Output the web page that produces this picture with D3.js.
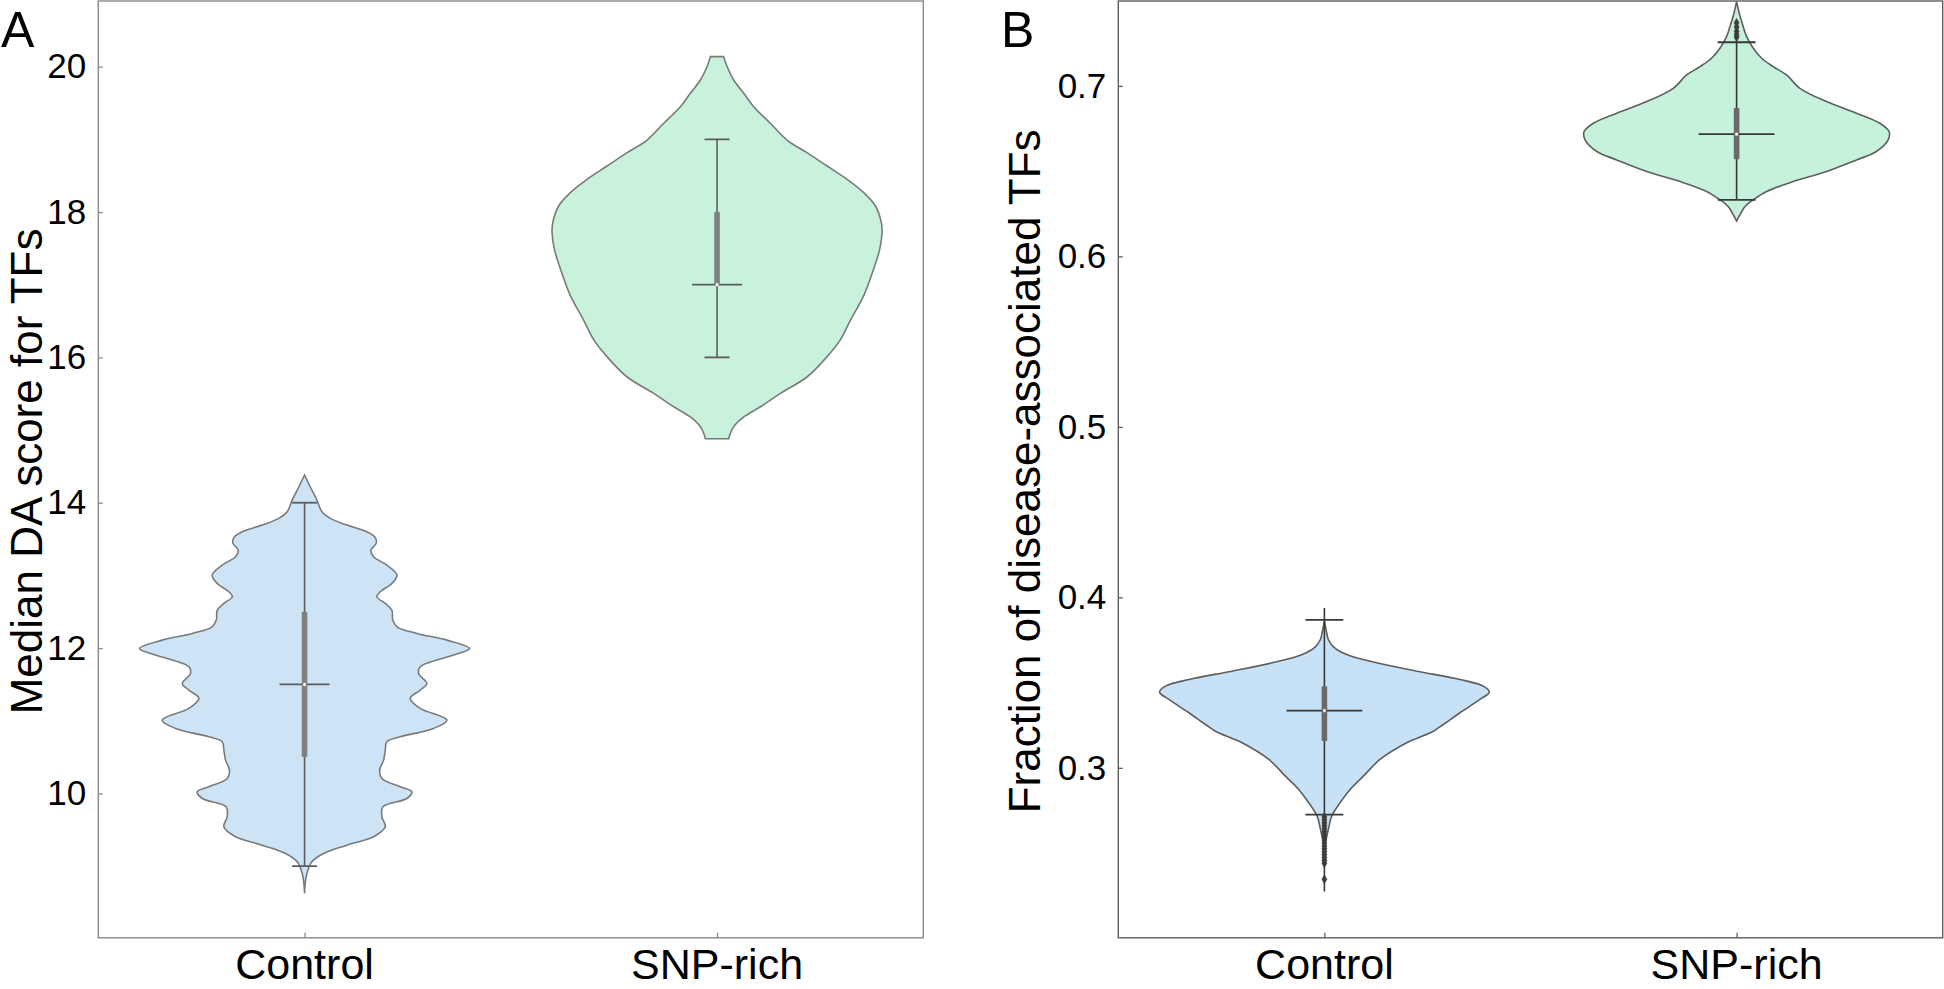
<!DOCTYPE html>
<html>
<head>
<meta charset="utf-8">
<script src="https://cdn.jsdelivr.net/npm/d3@7"></script>
<style>
  html, body { margin: 0; padding: 0; background: #ffffff; }
  svg { display: block; }
  text { font-family: "Liberation Sans", Arial, Helvetica, sans-serif; fill: #000; }
</style>
</head>
<body>
<svg id="chart" width="1944" height="989"></svg>
<script>
// ---------------- DATA ----------------
const categories = ["Control", "SNP-rich"];

// Panel A: median DA score for TFs
const yDomainA = [8.013, 20.904];
const yTicksA = [10, 12, 14, 16, 18, 20];
const yLabelA = "Median DA score for TFs";
// violin outlines: [value, relative density width]
const violinA_Control = [
  [14.381, 0], [14.22, 0.034], [14.036, 0.075], [13.876, 0.105], [13.784, 0.156], [13.692, 0.257],
  [13.60, 0.378], [13.522, 0.428], [13.44, 0.434], [13.348, 0.402], [13.256, 0.418], [13.142, 0.499],
  [13.004, 0.56], [12.889, 0.529], [12.775, 0.459], [12.706, 0.438], [12.614, 0.489], [12.523, 0.529],
  [12.385, 0.535], [12.293, 0.56], [12.201, 0.681], [12.109, 0.863], [11.995, 1.0], [11.903, 0.903],
  [11.742, 0.701], [11.651, 0.691], [11.513, 0.741], [11.421, 0.701], [11.307, 0.64], [11.169, 0.701],
  [11.008, 0.863], [10.894, 0.782], [10.779, 0.58], [10.71, 0.499], [10.595, 0.489], [10.458, 0.479],
  [10.32, 0.455], [10.205, 0.469], [10.091, 0.58], [10.022, 0.651], [9.93, 0.62], [9.816, 0.475],
  [9.678, 0.469], [9.54, 0.489], [9.403, 0.418], [9.288, 0.257], [9.173, 0.115], [9.059, 0.044],
  [8.898, 0.014], [8.76, 0.004], [8.622, 0]
];
const violinA_SNP = [
  [20.138, 0.04], [20.0, 0.061], [19.817, 0.101], [19.634, 0.162], [19.45, 0.222], [19.221, 0.323],
  [18.991, 0.424], [18.817, 0.545], [18.633, 0.667], [18.45, 0.788], [18.267, 0.889], [18.083, 0.96],
  [17.85, 0.996], [17.72, 1.0], [17.49, 0.986], [17.215, 0.949], [16.85, 0.889], [16.51, 0.808],
  [16.24, 0.747], [16.01, 0.667], [15.73, 0.545], [15.505, 0.384], [15.32, 0.263], [15.18, 0.162],
  [15.046, 0.101], [14.955, 0.081], [14.88, 0.071]
];
const capLowA = [9, 16];
const capHighA = [14, 19];
const q1A = [10.5, 17];
const q3A = [12.5, 18];
const medianA = [11.5, 17];

// Panel B: fraction of disease-associated TFs
const yDomainB = [0.2003, 0.7498];
const yTicksB = [0.3, 0.4, 0.5, 0.6, 0.7];
const yLabelB = "Fraction of disease-associated TFs";
const violinB_Control = [
  [0.386, 0], [0.3811, 0.01], [0.3753, 0.024], [0.371, 0.055], [0.3665, 0.135], [0.3616, 0.317],
  [0.3567, 0.56], [0.3518, 0.822], [0.3479, 0.964], [0.3444, 1.0], [0.3401, 0.943], [0.3323, 0.822],
  [0.3254, 0.721], [0.3215, 0.661], [0.3147, 0.499], [0.3049, 0.337], [0.2951, 0.236], [0.2873, 0.156],
  [0.2795, 0.095], [0.2717, 0.044], [0.2639, 0.024], [0.258, 0.01], [0.2541, 0]
];
const violinB_SNP = [
  [0.7494, 0], [0.7426, 0.016], [0.7348, 0.04], [0.7289, 0.061], [0.7221, 0.101], [0.7162, 0.152],
  [0.7113, 0.222], [0.7064, 0.303], [0.6986, 0.384], [0.6908, 0.545], [0.684, 0.727], [0.6781, 0.869],
  [0.6732, 0.925], [0.6683, 0.919], [0.6615, 0.848], [0.6566, 0.727], [0.6498, 0.545], [0.6439, 0.343],
  [0.6381, 0.182], [0.6332, 0.101], [0.6293, 0.051], [0.6244, 0.02], [0.6215, 0.004], [0.6203, 0]
];
const lineMinB = [0.2274, 0.6332];
const lineMaxB = [0.3938, 0.7370];
const capLowB = [0.2725, 0.6332];
const capHighB = [0.3868, 0.7256];
const q1B = [0.3157, 0.657];
const q3B = [0.3479, 0.687];
const meanB = [0.3336, 0.6717];
const outliersB_Control = [0.2712, 0.2695, 0.2678, 0.2661, 0.2644, 0.2627, 0.2610, 0.2593, 0.2576,
  0.2559, 0.2542, 0.2525, 0.2508, 0.2491, 0.2474, 0.2457, 0.2440, 0.2346];
const outliersB_SNP = [0.7370, 0.7345, 0.7320, 0.7300, 0.7286];

// ---------------- DRAWING ----------------
const svg = d3.select("#chart");
const H_TOP = 1, H_BOTTOM = 937.8;
const fonts = { tick: 35, label: 44, xlab: 43, panel: 50 };

function panel(opts) {
  const g = svg.append("g");
  const x = d3.scalePoint().domain(categories).range([opts.left, opts.right]).padding(0.5);
  const y = d3.scaleLinear().domain(opts.domain).range([H_BOTTOM, H_TOP]);
  const step = x.step();
  const maxHW = 0.4 * step;

  const clipId = "clip" + opts.name;
  svg.append("clipPath").attr("id", clipId).append("rect")
    .attr("x", opts.left).attr("y", H_TOP).attr("width", opts.right - opts.left).attr("height", H_BOTTOM - H_TOP);
  const plot = g.append("g").attr("clip-path", `url(#${clipId})`);

  // violins
  opts.violins.forEach((prof, i) => {
    const cx = x(categories[i]);
    const area = d3.area()
      .y(d => y(d[0]))
      .x0(d => cx - d[1] * maxHW)
      .x1(d => cx + d[1] * maxHW)
      .curve(d3.curveCatmullRom.alpha(0.5));
    plot.append("path").datum(prof).attr("d", area)
      .attr("fill", opts.fills[i]).attr("stroke", opts.edge).attr("stroke-width", 1.6);
  });

  categories.forEach((c, i) => {
    const cx = x(c);
    const lineTop = opts.lineMax ? opts.lineMax[i] : opts.capHigh[i];
    const lineBot = opts.lineMin ? opts.lineMin[i] : opts.capLow[i];
    // thin extent line
    plot.append("line").attr("x1", cx).attr("x2", cx).attr("y1", y(lineTop)).attr("y2", y(lineBot))
      .attr("stroke", opts.lineColor).attr("stroke-width", 1.6);
    // caps
    [opts.capLow[i], opts.capHigh[i]].forEach(v => {
      plot.append("line").attr("x1", cx - opts.capW * step).attr("x2", cx + opts.capW * step)
        .attr("y1", y(v)).attr("y2", y(v)).attr("stroke", opts.lineColor).attr("stroke-width", 1.8);
    });
    // outliers
    if (opts.outliers) {
      plot.selectAll(null).data(opts.outliers[i]).join("path")
        .attr("transform", d => `translate(${cx},${y(d)})`)
        .attr("d", d3.symbol(d3.symbolDiamond, 22))
        .attr("fill", "#3d3d3d").attr("stroke", "#3d3d3d").attr("stroke-width", 0.6);
    }
    // IQR box
    plot.append("rect").attr("x", cx - 2.8).attr("width", 5.6)
      .attr("y", y(opts.q3[i])).attr("height", y(opts.q1[i]) - y(opts.q3[i]))
      .attr("fill", opts.boxColor).attr("rx", 0.8);
    // median / mean line
    plot.append("line").attr("x1", cx - opts.midW * step).attr("x2", cx + opts.midW * step)
      .attr("y1", y(opts.mid[i])).attr("y2", y(opts.mid[i]))
      .attr("stroke", opts.lineColor).attr("stroke-width", 1.8);
    // white dot
    plot.append("circle").attr("cx", cx).attr("cy", y(opts.mid[i])).attr("r", 1.9)
      .attr("fill", "#ffffff").attr("stroke", opts.boxColor).attr("stroke-width", 0.6);
  });

  // frame
  g.append("rect").attr("x", opts.left).attr("y", H_TOP)
    .attr("width", opts.right - opts.left).attr("height", H_BOTTOM - H_TOP)
    .attr("fill", "none").attr("stroke", opts.frame).attr("stroke-width", 1.4);

  // y axis (inward ticks)
  const yAxis = d3.axisLeft(y).tickValues(opts.ticks).tickSize(-4.5).tickPadding(12)
    .tickFormat(opts.fmt);
  const ya = g.append("g").attr("transform", `translate(${opts.left},0)`).call(yAxis);
  ya.select(".domain").remove();
  ya.selectAll(".tick line").attr("stroke", opts.frame).attr("stroke-width", 1.3);
  ya.selectAll(".tick text").attr("font-size", fonts.tick)
    .attr("font-family", '"Liberation Sans", Arial, sans-serif').attr("fill", "#000");

  // x axis (inward ticks)
  const xAxis = d3.axisBottom(x).tickSize(-5).tickPadding(0).tickFormat("");
  const xa = g.append("g").attr("transform", `translate(0,${H_BOTTOM})`).call(xAxis);
  xa.select(".domain").remove();
  xa.selectAll(".tick line").attr("stroke", opts.frame).attr("stroke-width", 1.3);
  categories.forEach(c => {
    g.append("text").attr("x", x(c)).attr("y", 979).attr("text-anchor", "middle")
      .attr("font-size", fonts.xlab).text(c);
  });

  // y label
  g.append("text")
    .attr("transform", `translate(${opts.labelX},${(H_TOP + H_BOTTOM) / 2 + 2}) rotate(-90)`)
    .attr("text-anchor", "middle").attr("font-size", fonts.label).text(opts.label);

  // panel letter
  g.append("text").attr("x", opts.letterX).attr("y", 46.7).attr("font-size", fonts.panel).text(opts.name);
}

panel({
  name: "A", left: 98.3, right: 923.3, domain: yDomainA, ticks: yTicksA, fmt: d3.format("d"),
  label: yLabelA, labelX: 42, letterX: 1,
  violins: [violinA_Control, violinA_SNP],
  fills: ["#cce4f6", "#c8f2dc"], edge: "#7a7a7a", frame: "#8a8a8a",
  lineColor: "#5c5c5c", boxColor: "#808080",
  capLow: capLowA, capHigh: capHighA, q1: q1A, q3: q3A, mid: medianA,
  capW: 0.0303, midW: 0.0606
});

panel({
  name: "B", left: 1118.3, right: 1942.7, domain: yDomainB, ticks: yTicksB, fmt: d3.format(".1f"),
  label: yLabelB, labelX: 1040, letterX: 1001,
  violins: [violinB_Control, violinB_SNP],
  fills: ["#c7e2f6", "#c6f2dc"], edge: "#5e5e5e", frame: "#5e5e5e",
  lineColor: "#383838", boxColor: "#6a6a6a",
  capLow: capLowB, capHigh: capHighB, q1: q1B, q3: q3B, mid: meanB,
  lineMin: lineMinB, lineMax: lineMaxB, outliers: [outliersB_Control, outliersB_SNP],
  capW: 0.046, midW: 0.092
});
</script>
</body>
</html>
